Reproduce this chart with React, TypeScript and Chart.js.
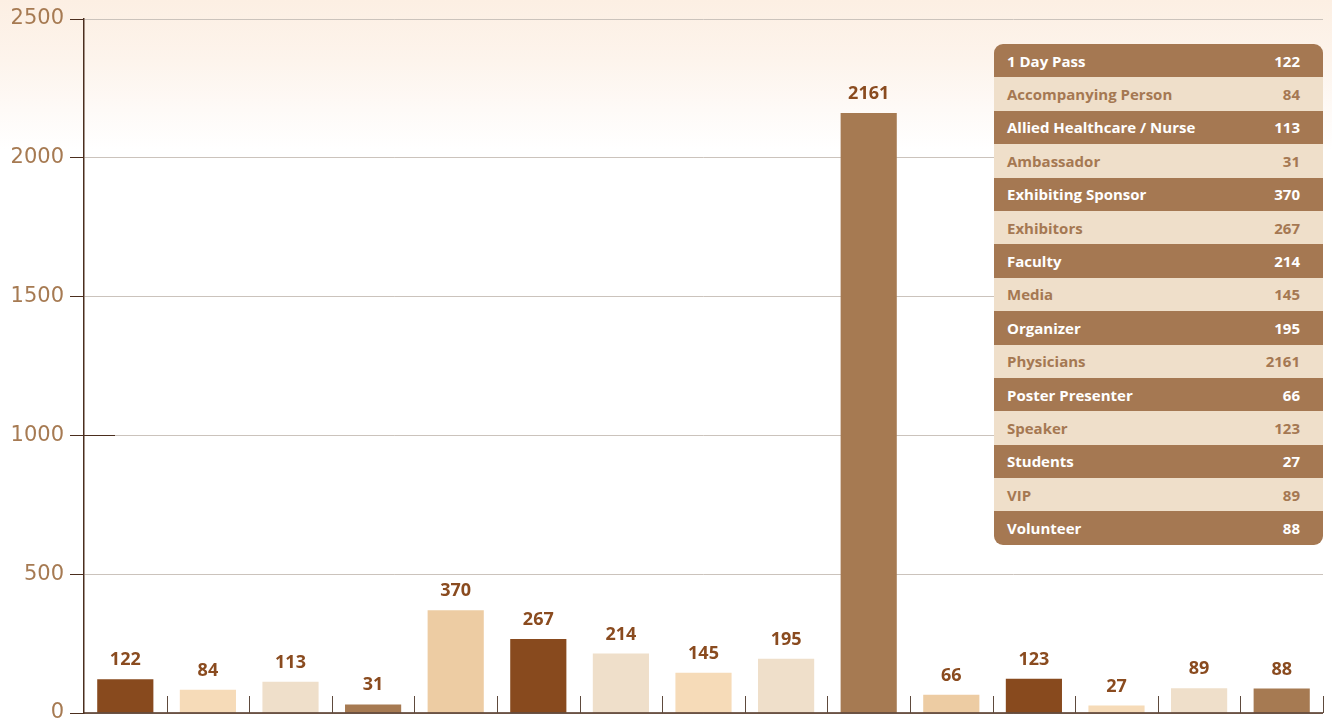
import React, { useEffect, useRef } from "react";
import { Chart, registerables } from "chart.js";

Chart.register(...registerables);

const categories = [
  "1 Day Pass",
  "Accompanying Person",
  "Allied Healthcare / Nurse",
  "Ambassador",
  "Exhibiting Sponsor",
  "Exhibitors",
  "Faculty",
  "Media",
  "Organizer",
  "Physicians",
  "Poster Presenter",
  "Speaker",
  "Students",
  "VIP",
  "Volunteer",
];
const values = [122, 84, 113, 31, 370, 267, 214, 145, 195, 2161, 66, 123, 27, 89, 88];
const barColors = [
  "#884a1e",
  "#f6dbb8",
  "#efdfca",
  "#a67a52",
  "#edcca3",
  "#884a1e",
  "#efdfca",
  "#f6dbb8",
  "#efdfca",
  "#a67a52",
  "#edcca3",
  "#884a1e",
  "#f6dbb8",
  "#efdfca",
  "#a67a52",
];
const yTicks = [0, 500, 1000, 1500, 2000, 2500];

const AXIS_DARK = "#4b2e1e";
const LABEL_BROWN = "#8a4b1f";
const TICK_TAN = "#a67a52";

const overlayPlugin = {
  id: "overlay",
  afterDatasetsDraw(chart: any) {
    const ctx = chart.ctx;
    const area = chart.chartArea;
    const x = chart.scales.x;
    const y = chart.scales.y;
    ctx.save();
    // x axis line
    ctx.strokeStyle = AXIS_DARK;
    ctx.lineWidth = 1.5;
    ctx.beginPath();
    ctx.moveTo(area.left, area.bottom);
    ctx.lineTo(area.right, area.bottom);
    ctx.stroke();
    // category boundary tick marks (upward)
    ctx.strokeStyle = "#5e4a3d";
    ctx.lineWidth = 1;
    for (let i = 0; i < categories.length; i++) {
      const c = x.getPixelForValue(i);
      const n = i < categories.length - 1 ? x.getPixelForValue(i + 1) : c + (c - x.getPixelForValue(i - 1));
      const b = Math.round((c + n) / 2) + 0.5;
      ctx.beginPath();
      ctx.moveTo(b, area.bottom);
      ctx.lineTo(b, area.bottom - 17);
      ctx.stroke();
    }
    // dark segment at 1000
    const y1000 = Math.round(y.getPixelForValue(1000)) + 0.5;
    ctx.strokeStyle = AXIS_DARK;
    ctx.beginPath();
    ctx.moveTo(area.left, y1000);
    ctx.lineTo(area.left + 31, y1000);
    ctx.stroke();
    // value labels
    const meta = chart.getDatasetMeta(0);
    ctx.fillStyle = LABEL_BROWN;
    ctx.font = "bold 18px 'Open Sans'";
    ctx.textAlign = "center";
    ctx.textBaseline = "alphabetic";
    meta.data.forEach((el: any, i: number) => {
      ctx.fillText(String(values[i]), el.x, el.y - 14);
    });
    ctx.restore();
  },
};

export default function App() {
  const ref = useRef<HTMLCanvasElement | null>(null);
  useEffect(() => {
    if (!ref.current) return;
    const chart = new Chart(ref.current, {
      type: "bar",
      data: {
        labels: categories,
        datasets: [
          {
            data: values,
            backgroundColor: barColors,
            borderWidth: 0,
            barPercentage: 0.68,
            categoryPercentage: 1,
          },
        ],
      },
      options: {
        responsive: false,
        animation: false,
        layout: { padding: { left: 0, right: 9, top: 19, bottom: 7 } },
        plugins: {
          legend: { display: false },
          tooltip: { enabled: false },
          title: { display: false },
        },
        scales: {
          x: {
            display: false,
            offset: true,
          },
          y: {
            min: 0,
            max: 2500,
            afterBuildTicks(scale: any) {
              scale.ticks = yTicks.map((v) => ({ value: v }));
            },
            afterFit(scale: any) {
              scale.width = 84;
              scale.paddingTop = 0;
              scale.paddingBottom = 0;
            },
            border: { display: true, color: AXIS_DARK, width: 1.5 },
            grid: {
              color: "#cbc3bc",
              tickColor: AXIS_DARK,
              tickLength: 14,
              lineWidth: 1,
            },
            ticks: {
              color: TICK_TAN,
              padding: 6,
              font: { family: "'DejaVu Sans'", size: 21 },
              callback: (v: any) => String(v),
            },
          },
        },
      },
      plugins: [overlayPlugin],
    });
    return () => chart.destroy();
  }, []);

  const rowH = 501 / categories.length;
  return (
    <div
      style={{
        position: "fixed",
        left: 0,
        top: 0,
        width: 1332,
        height: 720,
        background:
          "linear-gradient(to bottom, #fcefe3 0px, #fdf4ec 60px, #fefaf7 110px, #ffffff 150px)",
        overflow: "hidden",
      }}
    >
      <canvas ref={ref} width={1332} height={720} style={{ position: "absolute", left: 0, top: 0 }} />
      <div
        style={{
          position: "absolute",
          left: 994,
          top: 44,
          width: 329,
          height: 501,
          borderRadius: 9,
          overflow: "hidden",
          fontFamily: "'Open Sans', sans-serif",
          fontWeight: 700,
          fontSize: 15,
        }}
      >
        {categories.map((c, i) => {
          const dark = i % 2 === 0;
          return (
            <div
              key={c}
              style={{
                height: rowH,
                display: "flex",
                alignItems: "center",
                justifyContent: "space-between",
                padding: "0 23px 0 13px",
                boxSizing: "border-box",
                background: dark ? "#a57852" : "#efdfca",
                color: dark ? "#ffffff" : "#a57852",
              }}
            >
              <span>{c}</span>
              <span>{values[i]}</span>
            </div>
          );
        })}
      </div>
    </div>
  );
}
